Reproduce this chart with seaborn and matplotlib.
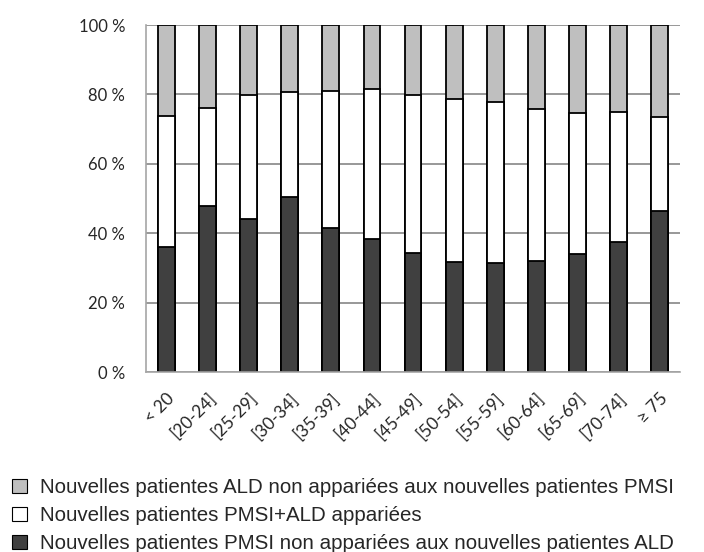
import numpy as np
import pandas as pd
import matplotlib
matplotlib.use("Agg")
import matplotlib.pyplot as plt
import matplotlib.transforms as mtransforms
import seaborn as sns
from matplotlib.patches import Patch

# tranches d'âge
categories = ["< 20", "[20-24]", "[25-29]", "[30-34]", "[35-39]", "[40-44]", "[45-49]",
              "[50-54]", "[55-59]", "[60-64]", "[65-69]", "[70-74]", "≥ 75"]
# parts en %
pmsi_non_app = [35.9, 47.9, 44.1, 50.3, 41.6, 38.2, 34.4, 31.6, 31.5, 31.9, 33.9, 37.4, 46.3]
appariees = [38.0, 28.1, 35.7, 30.4, 39.4, 43.3, 45.4, 47.0, 46.4, 43.9, 40.8, 37.4, 27.1]
ald_non_app = [26.1, 24.0, 20.2, 19.3, 19.0, 18.5, 20.2, 21.4, 22.1, 24.2, 25.3, 25.2, 26.6]

labels = ["Nouvelles patientes ALD non appariées aux nouvelles patientes PMSI",
          "Nouvelles patientes PMSI+ALD appariées",
          "Nouvelles patientes PMSI non appariées aux nouvelles patientes ALD"]
colors = ["#BFBFBF", "#FFFFFF", "#404040"]

sns.set_style("white")
plt.rcParams["font.family"] = ["Lato", "DejaVu Sans"]

df = pd.DataFrame({"age": categories,
                   "bas": pmsi_non_app,
                   "milieu": np.array(pmsi_non_app) + np.array(appariees),
                   "haut": np.array(pmsi_non_app) + np.array(appariees) + np.array(ald_non_app)})

fig = plt.figure(figsize=(7.04, 5.52), dpi=100)
ax = fig.add_axes([0.2074, 0.326, 0.7586, 0.6287])

# barres empilées : total d'abord, puis les parts cumulées par-dessus
for col, c in zip(["haut", "milieu", "bas"], colors):
    sns.barplot(data=df, x="age", y=col, color=c, width=0.41, edgecolor="black",
                linewidth=1.3, saturation=1, ax=ax)

ax.set_ylim(0, 100)
ax.set_xlim(-0.5, len(categories) - 0.5)
ax.set_yticks([0, 20, 40, 60, 80, 100])
ax.set_yticklabels([f"{v} %" for v in [0, 20, 40, 60, 80, 100]], fontsize=12)
ax.set_xticks(range(len(categories)))
ax.set_xticklabels(categories, rotation=45, ha="right", rotation_mode="anchor", fontsize=12.5)
decal = mtransforms.ScaledTranslation(-4 / 100, 0, fig.dpi_scale_trans)
for t in ax.get_xticklabels():
    t.set_transform(t.get_transform() + decal)
ax.tick_params(axis="y", length=5, width=1.2, color="#868686", pad=10)
ax.tick_params(axis="x", length=0, pad=13)
ax.set_xlabel("")
ax.set_ylabel("")
ax.yaxis.grid(True, color="#868686", linewidth=1.2)
ax.set_axisbelow(True)
for s in ["top", "right"]:
    ax.spines[s].set_visible(False)
for s in ["left", "bottom"]:
    ax.spines[s].set_color("#A6A6A6")
    ax.spines[s].set_linewidth(1.2)

handles = [Patch(facecolor=c, edgecolor="black", linewidth=0.8) for c in colors]
fig.legend(handles, labels, loc="lower left", bbox_to_anchor=(12 / 704, -0.002), frameon=False,
           prop={"family": "Liberation Sans", "size": 14.8},
           handlelength=0.72, handleheight=0.72, handletextpad=0.62,
           labelspacing=0.44, borderpad=0, borderaxespad=0)

fig.savefig("out.png", dpi=100)
